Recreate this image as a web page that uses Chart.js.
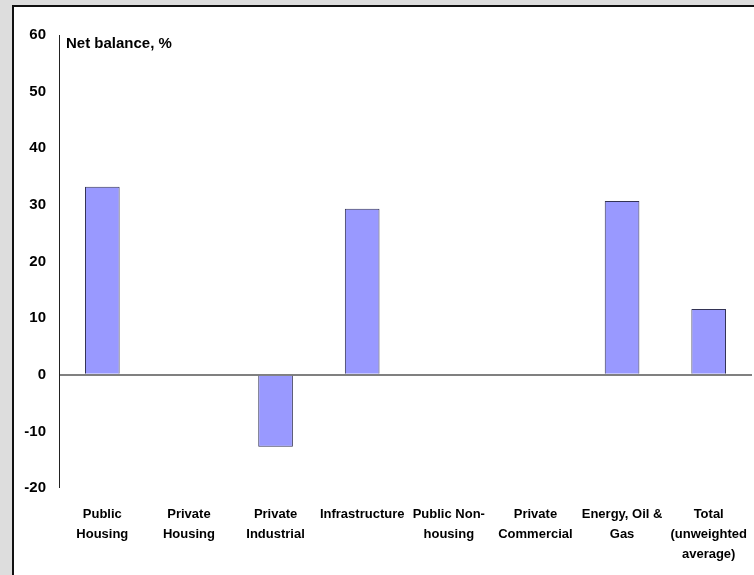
<!DOCTYPE html>
<html lang="en">
  <head>
    <meta charset="UTF-8" />
    <title>Net balance</title>
    <script src="https://cdn.jsdelivr.net/npm/chart.js"></script>
    <style>
      html, body { margin: 0; padding: 0; background: #dddddd; }
      #wrap { width: 754px; height: 575px; }
    </style>
  </head>
  <body>
    <div id="wrap"><canvas id="myChart" width="754" height="575"></canvas></div>
    <script>
      // data
      const categories = [
        ["Public", "Housing"],
        ["Private", "Housing"],
        ["Private", "Industrial"],
        ["Infrastructure"],
        ["Public Non-", "housing"],
        ["Private", "Commercial"],
        ["Energy, Oil &", "Gas"],
        ["Total", "(unweighted", "average)"],
      ];
      const netBalance = [33.2, 0, -12.7, 29.3, 0, 0, 30.7, 11.6];
      const yTicks = { min: -20, max: 60, step: 10 };
      const axisTitle = "Net balance, %";

      const FONT = "'Liberation Sans', Arial, sans-serif";

      // grey surround + white panel with dark edge, and the axis title
      const framePlugin = {
        id: "frame",
        beforeDraw(chart) {
          const c = chart.ctx;
          c.save();
          c.fillStyle = "#dddddd";
          c.fillRect(0, 0, chart.width, chart.height);
          c.fillStyle = "#111111";
          c.fillRect(12, 5, chart.width - 12, chart.height - 5);
          c.fillStyle = "#ffffff";
          c.fillRect(14, 7, chart.width - 14, chart.height - 7);
          c.restore();
        },
        afterDraw(chart) {
          const c = chart.ctx;
          c.save();
          c.font = "bold 15px " + FONT;
          c.fillStyle = "#000";
          c.textBaseline = "middle";
          c.fillText(axisTitle, 66, 44);
          c.restore();
        },
      };

      const ctx = document.querySelector("#myChart");
      const chart = new Chart(ctx, {
        type: "bar",
        data: {
          labels: categories,
          datasets: [
            {
              data: netBalance,
              backgroundColor: "#9999ff",
              borderColor: "#333355",
              borderWidth: 1,
              categoryPercentage: 1,
              barPercentage: 0.4,
            },
          ],
        },
        options: {
          responsive: false,
          animation: false,
          layout: { padding: { left: 0, top: 35, right: 2, bottom: 0 } },
          plugins: {
            legend: { display: false },
            tooltip: { enabled: false },
          },
          scales: {
            x: {
              grid: { display: false, drawTicks: false },
              border: { display: false },
              ticks: {
                color: "#000",
                font: { family: FONT, size: 13, weight: "bold", lineHeight: 1.54 },
                padding: 16,
                maxRotation: 0,
                autoSkip: false,
              },
              afterFit(scale) {
                scale.height = 87;
                scale.paddingLeft = 0;
                scale.paddingRight = 0;
              },
            },
            y: {
              min: yTicks.min,
              max: yTicks.max,
              grid: {
                drawTicks: false,
                color: (c) => (c.tick && c.tick.value === 0 ? "#808080" : "rgba(0,0,0,0)"),
                lineWidth: (c) => (c.tick && c.tick.value === 0 ? 2 : 0),
              },
              border: { display: true, color: "#222", width: 1 },
              ticks: {
                stepSize: yTicks.step,
                color: "#000",
                padding: 13,
                font: { family: FONT, size: 15, weight: "bold" },
              },
              afterFit(scale) {
                scale.width = 59;
              },
            },
          },
        },
        plugins: [framePlugin],
      });
    </script>
  </body>
</html>
